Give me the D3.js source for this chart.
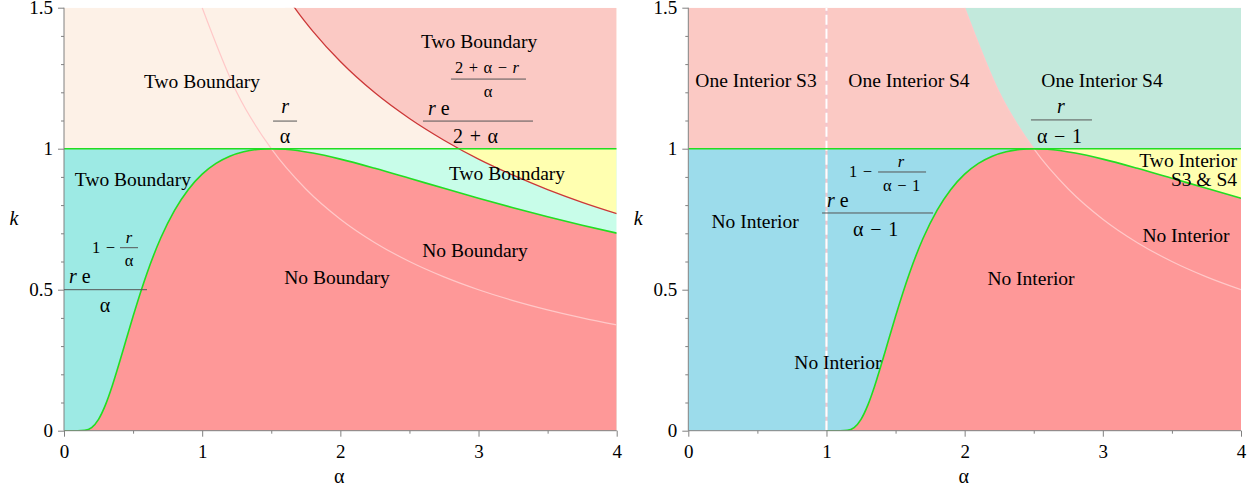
<!DOCTYPE html>
<html>
<head>
<meta charset="utf-8">
<script src="https://cdn.jsdelivr.net/npm/d3@7"></script>
<style>
  html, body { margin: 0; padding: 0; background: #fff; }
  svg { display: block; font-family: "Liberation Serif", "Times New Roman", serif; }
</style>
</head>
<body>
<svg id="chart" width="1256" height="492"></svg>
<script>
// Axis ticks
const alphaTicks = [0, 1, 2, 3, 4];
const alphaMinorTicks = [0.5, 1.5, 2.5, 3.5];
const kTicks = [0, 0.5, 1, 1.5];
const kMinorTicks = [0.1, 0.2, 0.3, 0.4, 0.6, 0.7, 0.8, 0.9, 1.1, 1.2, 1.3, 1.4];
const kLevel = 1;

// Boundary case (r = 1.5): k = r e^(1 - r/α) / α
const boundaryAlpha = [0, 0.1, 0.15, 0.2, 0.25, 0.3, 0.35, 0.4, 0.45, 0.5, 0.6, 0.7, 0.8, 0.9, 1.0, 1.1, 1.2, 1.3, 1.4, 1.5, 1.6, 1.8, 2.0, 2.25, 2.5, 2.75, 3.0, 3.25, 3.5, 3.75, 4.0];
const boundaryK     = [0, 0.0000, 0.0012, 0.0113, 0.0404, 0.0916, 0.1604, 0.2398, 0.3232, 0.4060, 0.5578, 0.6834, 0.7816, 0.8557, 0.9098, 0.9480, 0.9735, 0.9893, 0.9976, 1.0, 0.9980, 0.9845, 0.9630, 0.9304, 0.8951, 0.8594, 0.8244, 0.7908, 0.7589, 0.7288, 0.7006];

// k = r e^((2 + α - r)/α) / (2 + α)
const upperAlpha = [1.6, 1.65, 1.7, 1.8, 2.0, 2.25, 2.5, 2.75, 3.0, 3.25, 3.5, 3.75, 4.0];
const upperK     = [1.548, 1.513, 1.479, 1.417, 1.309, 1.198, 1.107, 1.030, 0.963, 0.906, 0.855, 0.810, 0.770];

// k = r / α
const ratioAlpha = [1.0, 1.25, 1.5, 1.75, 2.0, 2.25, 2.5, 2.75, 3.0, 3.25, 3.5, 3.75, 4.0];
const ratioK     = [1.5, 1.2, 1.0, 0.8571, 0.75, 0.6667, 0.6, 0.5455, 0.5, 0.4615, 0.4286, 0.4, 0.375];

// Interior case: k = r e^(1 - r/(α-1)) / (α-1)
const interiorAlpha = [1.0, 1.1, 1.15, 1.2, 1.25, 1.3, 1.35, 1.4, 1.45, 1.5, 1.6, 1.7, 1.8, 1.9, 2.0, 2.1, 2.2, 2.3, 2.4, 2.5, 2.6, 2.8, 3.0, 3.25, 3.5, 3.75, 4.0];
const interiorK     = [0, 0.0000, 0.0012, 0.0113, 0.0404, 0.0916, 0.1604, 0.2398, 0.3232, 0.4060, 0.5578, 0.6834, 0.7816, 0.8557, 0.9098, 0.9480, 0.9735, 0.9893, 0.9976, 1.0, 0.9980, 0.9845, 0.9630, 0.9304, 0.8951, 0.8594, 0.8244];

// k = r / (α - 1)
const interiorRatioAlpha = [2.0, 2.25, 2.5, 2.75, 3.0, 3.25, 3.5, 3.75, 4.0];
const interiorRatioK     = [1.5, 1.2, 1.0, 0.8571, 0.75, 0.6667, 0.6, 0.5455, 0.5];

const zip = (xs, ys) => xs.map((a, i) => ({ a, k: ys[i] }));
const boundary = zip(boundaryAlpha, boundaryK);
const upper = zip(upperAlpha, upperK);
const ratio = zip(ratioAlpha, ratioK);
const interior = zip(interiorAlpha, interiorK);
const interiorRatio = zip(interiorRatioAlpha, interiorRatioK);

const C = {
  peach: "#fdf1e7", pink: "#fbc9c4", teal: "#9deae4", red: "#fe9898",
  cyan: "#c8fde9", yellow: "#ffffb0", seafoam: "#c2e9dc", blue: "#9cdceb",
  green: "#22dd22", curveRed: "#cc3838", thin: "#ffc8c8", axis: "#808080"
};

const FONT = "'Liberation Serif', 'Times New Roman', serif";
const svg = d3.select("#chart");
const W = 552.7;
const x = d3.scaleLinear().domain([0, 4]).range([0, W]);
const y = d3.scaleLinear().domain([0, 1.5]).range([430.7, 7.7]);
const line = d3.line().x(d => x(d.a)).y(d => y(d.k)).curve(d3.curveMonotoneX);
const defs = svg.append("defs");

function makePanel(id, ox) {
  const g = svg.append("g").attr("transform", `translate(${ox},0)`);
  defs.append("clipPath").attr("id", id + "-plot").append("rect")
    .attr("x", 0).attr("y", y(1.5)).attr("width", W).attr("height", y(0) - y(1.5));
  defs.append("clipPath").attr("id", id + "-lower").append("rect")
    .attr("x", 0).attr("y", y(kLevel)).attr("width", W).attr("height", y(0) - y(kLevel));
  defs.append("clipPath").attr("id", id + "-upper").append("rect")
    .attr("x", 0).attr("y", y(1.5)).attr("width", W).attr("height", y(kLevel) - y(1.5));
  const plot = g.append("g").attr("clip-path", `url(#${id}-plot)`);
  return { g, plot, id };
}

function rect(sel, a0, a1, k0, k1, fill) {
  sel.append("rect").attr("x", x(a0)).attr("y", y(k1))
    .attr("width", x(a1) - x(a0)).attr("height", y(k0) - y(k1)).attr("fill", fill);
}

function areaAbove(sel, data, top, fill, clip) {
  const ar = d3.area().x(d => x(d.a)).y0(d => y(d.k)).y1(y(top)).curve(d3.curveMonotoneX);
  sel.append("path").datum(data).attr("d", ar).attr("fill", fill)
    .attr("clip-path", clip ? `url(#${clip})` : null);
}

function areaBelow(sel, data, fill) {
  const ar = d3.area().x(d => x(d.a)).y0(y(0)).y1(d => y(d.k)).curve(d3.curveMonotoneX);
  sel.append("path").datum(data).attr("d", ar).attr("fill", fill);
}

function curve(sel, data, color, width) {
  sel.append("path").datum(data).attr("d", line).attr("fill", "none")
    .attr("stroke", color).attr("stroke-width", width);
}

function axes(g) {
  const fmt = d => String(d);
  const xb = g.append("g").attr("transform", `translate(0,${y(0)})`)
    .call(d3.axisBottom(x).tickValues(alphaTicks).tickSize(6).tickPadding(8).tickFormat(fmt));
  const xm = g.append("g").attr("transform", `translate(0,${y(0)})`)
    .call(d3.axisBottom(x).tickValues(alphaMinorTicks).tickSize(3).tickFormat(""));
  const yl = g.append("g").call(d3.axisLeft(y).tickValues(kTicks).tickSize(6).tickPadding(5).tickFormat(fmt));
  const ym = g.append("g").call(d3.axisLeft(y).tickValues(kMinorTicks).tickSize(3).tickFormat(""));
  [xm, ym].forEach(a => a.select(".domain").remove());
  [xb, xm, yl, ym].forEach(a => {
    a.attr("font-family", FONT).attr("font-size", 19);
    a.selectAll(".domain").attr("stroke", C.axis);
    a.selectAll("line").attr("stroke", C.axis);
    a.selectAll("text").attr("fill", "#000");
  });
  xb.select(".domain").attr("d", `M0,0H${W}`);
  yl.select(".domain").attr("d", `M0,${y(0)}V${y(1.5)}`);
  g.append("text").attr("x", W / 2 - 1).attr("y", 483).attr("text-anchor", "middle")
    .attr("font-size", 20).text("α");
  g.append("text").attr("x", -50).attr("y", y(0.75) + 6).attr("text-anchor", "middle")
    .attr("font-size", 20).attr("font-style", "italic").text("k");
}

function label(g, a, k, text, anchor) {
  g.append("text").attr("x", x(a)).attr("y", y(k)).attr("text-anchor", anchor || "middle")
    .attr("font-size", 19.5).attr("fill", "#000").text(text);
}

// Fraction: bar starts at data point (a, k); parts are offset in pixels from it.
function frac(g, a, k, len, parts, bars) {
  const fg = g.append("g").attr("transform", `translate(${x(a)},${y(k)})`);
  fg.append("line").attr("x1", 0).attr("x2", len).attr("y1", 0).attr("y2", 0)
    .attr("stroke", "#555").attr("stroke-width", 1);
  (bars || []).forEach(b => fg.append("line").attr("x1", b[0]).attr("x2", b[1])
    .attr("y1", b[2]).attr("y2", b[2]).attr("stroke", "#555").attr("stroke-width", 1));
  parts.forEach(p => {
    const t = fg.append("text").attr("x", p.dx).attr("y", p.dy)
      .attr("font-size", p.size || 20).attr("text-anchor", p.anchor || "start").attr("fill", "#000");
    p.s.forEach(seg => t.append("tspan").attr("font-style", seg[1] ? "italic" : null).text(seg[0]));
  });
}

const SP = "\u2004";
const SM = 16.5;

// ---------- Left panel: boundary equilibria ----------
{
  const L = makePanel("left", 64);
  const p = L.plot;
  rect(p, 0, 1.5, 0, kLevel, C.teal);
  rect(p, 1.5, 4, 0, kLevel, C.cyan);
  areaAbove(p, upper, 1.5, C.yellow, "left-lower");
  rect(p, 0, 4, kLevel, 1.5, C.peach);
  areaAbove(p, upper, 1.5, C.pink, "left-upper");
  areaBelow(p, boundary, C.red);
  curve(p, ratio, C.thin, 1.2);
  curve(p, upper, C.curveRed, 1.3);
  p.append("line").attr("x1", x(0)).attr("x2", x(4)).attr("y1", y(kLevel)).attr("y2", y(kLevel))
    .attr("stroke", C.green).attr("stroke-width", 1.6);
  curve(p, boundary, C.green, 1.6);
  axes(L.g);

  label(L.g, 0.999, 1.215, "Two Boundary");
  label(L.g, 3.004, 1.357, "Two Boundary");
  label(L.g, 0.499, 0.868, "Two Boundary");
  label(L.g, 3.206, 0.888, "Two Boundary");
  label(L.g, 2.975, 0.615, "No Boundary");
  label(L.g, 1.976, 0.520, "No Boundary");

  frac(L.g, 1.513, 1.098, 24, [
    { s: [["r", 1]], dx: 12, dy: -8, anchor: "middle" },
    { s: [["α", 0]], dx: 12, dy: 22, anchor: "middle" }
  ]);
  frac(L.g, 0, 0.5, 83, [
    { s: [["r", 1], [" e", 0]], dx: 5, dy: -7 },
    { s: [["α", 0]], dx: 41, dy: 22, anchor: "middle" },
    { s: [["1" + SP + "−", 0]], dx: 28, dy: -37, size: SM },
    { s: [["r", 1]], dx: 65, dy: -47, size: SM, anchor: "middle" },
    { s: [["α", 0]], dx: 65, dy: -24, size: SM, anchor: "middle" }
  ], [[56, 74, -42]]);
  frac(L.g, 2.598, 1.098, 110, [
    { s: [["r", 1], [" e", 0]], dx: 5, dy: -6 },
    { s: [["2" + SP + "+" + SP + "α", 0]], dx: 30, dy: 22 },
    { s: [["2" + SP + "+" + SP + "α" + SP + "−" + SP, 0], ["r", 1]], dx: 32, dy: -48, size: SM },
    { s: [["α", 0]], dx: 65, dy: -24, size: SM, anchor: "middle" }
  ], [[28, 103, -42]]);
}

// ---------- Right panel: interior equilibria ----------
{
  const R = makePanel("right", 688.3);
  const p = R.plot;
  rect(p, 0, 4, 0, kLevel, C.blue);
  rect(p, 0, 4, kLevel, 1.5, C.pink);
  areaAbove(p, interiorRatio, 1.5, C.seafoam, "right-upper");
  areaBelow(p, interior, C.red);
  areaAbove(p, interior.filter(d => d.a >= 2.5), kLevel, C.yellow, "right-lower");
  curve(p, interiorRatio, C.thin, 1.2);
  p.append("line").attr("x1", x(1)).attr("x2", x(1)).attr("y1", y(0)).attr("y2", y(1.5))
    .attr("stroke", "#f2c6ce").attr("stroke-width", 2);
  p.append("line").attr("x1", x(1)).attr("x2", x(1)).attr("y1", y(0)).attr("y2", y(1.5))
    .attr("stroke", "#ffffff").attr("stroke-width", 2).attr("stroke-dasharray", "10,4");
  p.append("line").attr("x1", x(0)).attr("x2", x(4)).attr("y1", y(kLevel)).attr("y2", y(kLevel))
    .attr("stroke", C.green).attr("stroke-width", 1.6);
  curve(p, interior, C.green, 1.6);
  axes(R.g);

  label(R.g, 0.490, 1.219, "One Interior S3");
  label(R.g, 1.597, 1.219, "One Interior S4");
  label(R.g, 2.994, 1.219, "One Interior S4");
  label(R.g, 0.483, 0.719, "No Interior");
  label(R.g, 1.083, 0.219, "No Interior");
  label(R.g, 2.480, 0.517, "No Interior");
  label(R.g, 3.602, 0.669, "No Interior");
  label(R.g, 3.971, 0.935, "Two Interior", "end");
  label(R.g, 3.971, 0.867, "S3 & S4", "end");

  frac(R.g, 0.968, 0.772, 111, [
    { s: [["r", 1], [" e", 0]], dx: 5, dy: -6 },
    { s: [["α" + SP + "−" + SP + "1", 0]], dx: 31, dy: 23 },
    { s: [["1" + SP + "−", 0]], dx: 27, dy: -36, size: SM },
    { s: [["r", 1]], dx: 79, dy: -46, size: SM, anchor: "middle" },
    { s: [["α" + SP + "−" + SP + "1", 0]], dx: 61, dy: -22, size: SM }
  ], [[56, 104, -41]]);
  frac(R.g, 2.480, 1.102, 61, [
    { s: [["r", 1]], dx: 30, dy: -7, anchor: "middle" },
    { s: [["α" + SP + "−" + SP + "1", 0]], dx: 6, dy: 23 }
  ]);
}
</script>
</body>
</html>
